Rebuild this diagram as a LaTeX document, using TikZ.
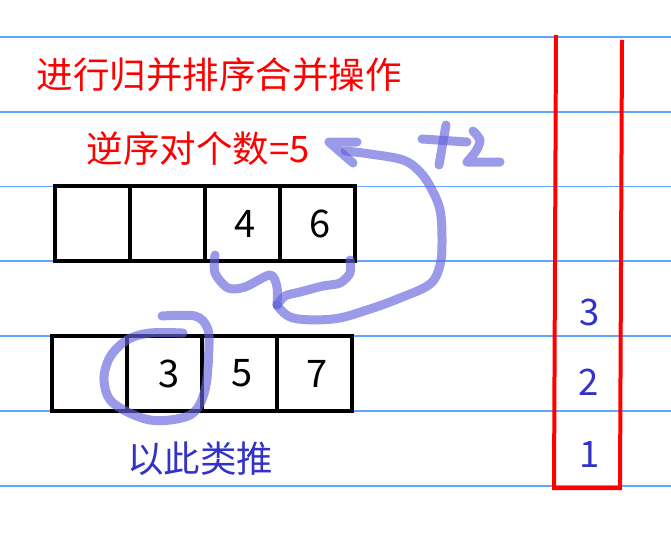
\documentclass[tikz,border=0pt]{standalone}
\usepackage{fontspec}
\usepackage{xcolor}
\usetikzlibrary{positioning}
\newfontfamily\cjk{Noto Sans CJK SC}
\definecolor{rulecol}{RGB}{95,165,250}
\definecolor{inkred}{RGB}{255,0,0}
\definecolor{inkblue}{RGB}{50,50,200}
\definecolor{penblue}{RGB}{100,100,220}
\tikzset{%
  % Specifications for style of nodes:
  cell/.style = {rectangle, draw=black, line width=4pt,
    minimum width=75pt, minimum height=75pt, outer sep=0pt,
    inner sep=0pt, font=\cjk\fontsize{38}{40}\selectfont},
  redtext/.style = {text=inkred, font=\cjk\fontsize{36.5}{40}\selectfont},
  bluetext/.style = {text=inkblue, font=\cjk\fontsize{36.5}{40}\selectfont},
  pen/.style = {draw=penblue, opacity=0.65, line width=9pt,
    line cap=round, line join=round},
}

\begin{document}
\begin{tikzpicture}[x=1pt, y=-1pt]
        \useasboundingbox (0,0) rectangle (671,543);
        % ruled paper
        \foreach \y in {37,112,186.5,261,336,411,486}
          \draw[rulecol, line width=1.5pt] (0,\y) -- (671,\y);
        % Specification of nodes (position, etc.)
        \node(Title)[redtext, anchor=west] at (33,75) {进行归并排序合并操作};
        \node(Count)[redtext, anchor=west] at (83,149) {逆序对个数=5};
        % upper array
        \node(A1)[cell] at (92.5,223.5) {};
        \node(A2)[cell, right=0pt of A1] {};
        \node(A3)[cell, right=0pt of A2] {\hspace{6pt}4};
        \node(A4)[cell, right=0pt of A3] {\hspace{5pt}6};
        % lower array
        \node(B1)[cell] at (89.5,373.5) {};
        \node(B2)[cell, right=0pt of B1] {\hspace{10pt}3};
        \node(B3)[cell, right=0pt of B2] {\hspace{6pt}5};
        \node(B4)[cell, right=0pt of B3] {\hspace{6pt}7};
        \node(Etc)[bluetext] at (200,459) {以此类推};
        % stack
        \coordinate (S1) at (556,35);
        \coordinate (S2) at (554,488);
        \coordinate (S3) at (620,488);
        \coordinate (S4) at (622,40);
        \draw[inkred, line width=4pt] (S1) -- (S2) -- (S3) -- (S4);
        \node(P3)[bluetext] at (590,312) {3};
        \node(P2)[bluetext] at (589,382) {2};
        \node(P1)[bluetext] at (590,454) {1};
        % pen marks
        \coordinate (Join) at (277,305);
        \draw[pen] plot[smooth, tension=0.5] coordinates {(215,255) (215,273)
          (228,288) (245,287) (270,275) (277,287) (Join)};
        \draw[pen] plot[smooth, tension=0.5] coordinates {(350,260) (350,273)
          (340,283) (323,286) (300,292) (285,296) (Join)};
        \draw[pen] plot[smooth, tension=0.6] coordinates {(Join) (293,318)
          (333,319) (367,310) (400,298) (430,284) (440,265) (442,240)
          (440,210) (431,188) (420,172) (403,160) (370,154) (345,151)};
        \draw[pen] (357,142) -- (329,142) -- (353,163);
        % +2
        \draw[pen] (446,125) -- (439,165);
        \draw[pen] (422,139) -- (467,142);
        \draw[pen] plot[smooth, tension=0.5] coordinates {(473,131) (480,140)
          (476,151) (467,162)} -- (500,162);
        % circle round 3
        \draw[pen] plot[smooth, tension=0.55] coordinates {(162,316) (195,316)
          (207,327) (209,345) (205,390) (190,415) (150,420) (113,403)
          (104,380) (110,357) (127,340) (150,333) (183,333)};
    \end{tikzpicture}
\end{document}
